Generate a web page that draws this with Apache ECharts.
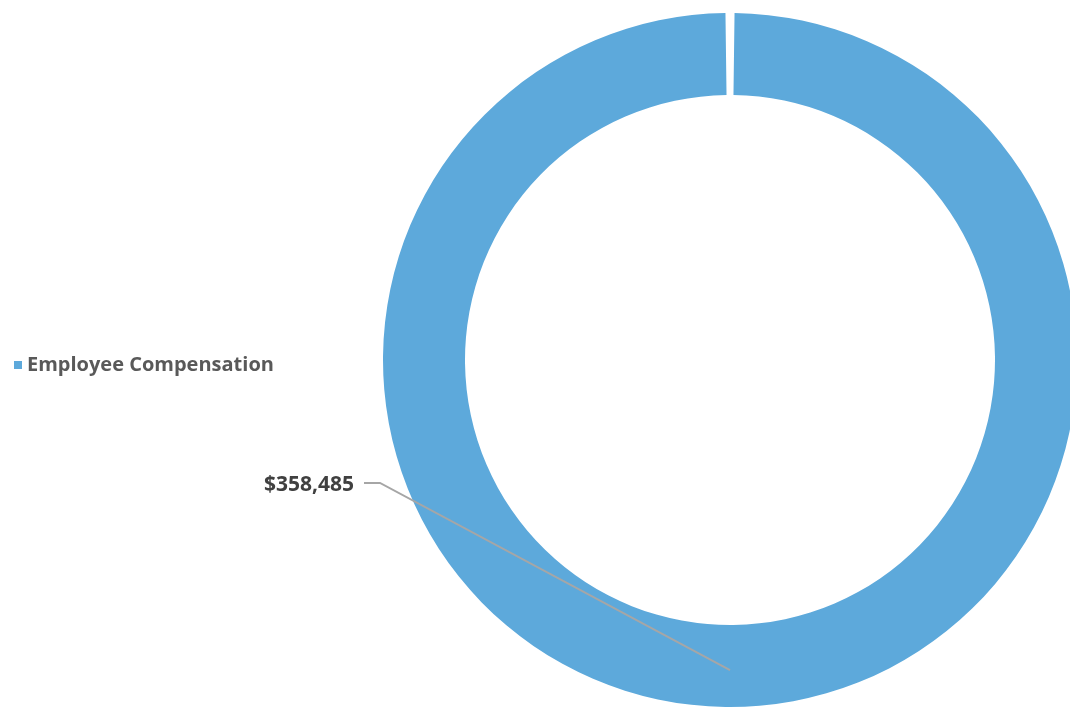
<!DOCTYPE html>
<html lang="en">
<head>
    <meta charset="UTF-8">
    <title>Employee Compensation</title>
    <style>
        html, body { margin: 0; padding: 0; background: #fff; }
    </style>
</head>
<body>
    <div id="main" style="width: 1070px;height:709px;"></div>
</body>
<script src="https://cdn.jsdelivr.net/npm/echarts@6/dist/echarts.min.js"></script>
<script type="text/javascript">
    // data
    var categories = ['Employee Compensation'];
    var values = [358485];

    var innerR = 265, outerR = 347;
    var font = 'Open Sans';

    function money(v) {
        return '$' + v.toLocaleString('en-US');
    }

    var pieData = categories.map(function (c, i) {
        return { name: c, value: values[i] };
    });

    var myChart = echarts.init(document.getElementById('main'));
    var option = {
        animation: false,
        legend: {
            orient: 'vertical',
            left: 9,
            top: 350,
            icon: 'rect',
            itemWidth: 8,
            itemHeight: 8,
            itemGap: 10,
            data: categories,
            textStyle: {
                fontFamily: font,
                fontWeight: 'bold',
                fontSize: 20,
                color: '#595959'
            }
        },
        series: [{
            // the ring itself
            name: 'Compensation',
            type: 'pie',
            z: 2,
            center: [730, 360],
            radius: [innerR, outerR],
            startAngle: 90,
            padAngle: 1.5,
            silent: true,
            itemStyle: { color: '#5DA9DB' },
            label: { show: false },
            labelLine: { show: false },
            data: pieData
        }, {
            // same slice, see-through, only to carry the value label on top
            name: 'Label',
            type: 'pie',
            z: 5,
            center: [730, 360],
            radius: [innerR, outerR],
            startAngle: 90,
            silent: true,
            legendHoverLink: false,
            itemStyle: { color: 'rgba(0,0,0,0)' },
            label: {
                show: true,
                position: 'outside',
                formatter: function (p) { return money(p.value); },
                fontFamily: font,
                fontWeight: 'bold',
                fontSize: 21,
                color: '#404040'
            },
            labelLine: {
                show: true,
                lineStyle: { color: '#A6A6A6', width: 2 }
            },
            labelLayout: function (params) {
                var r = params.rect;
                var cx = r.x + r.width / 2;
                var cy = r.y + r.height / 2;
                var R = r.width / 2;
                var ly = cy + 0.36 * R;
                var lx = r.x - 29;
                return {
                    x: lx,
                    y: ly,
                    align: 'right',
                    verticalAlign: 'middle',
                    labelLinePoints: [
                        [lx + 10, ly - 2],
                        [r.x - 3, ly - 2],
                        [cx, cy + innerR + 0.55 * (R - innerR)]
                    ]
                };
            },
            data: pieData
        }]
    };
    myChart.setOption(option);
</script>
</html>
